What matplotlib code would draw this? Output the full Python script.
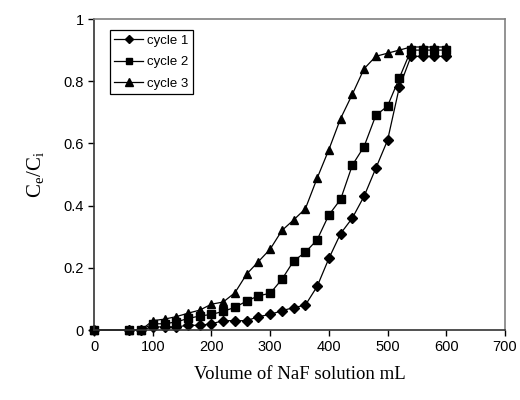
import matplotlib
matplotlib.use("Agg")
import matplotlib.pyplot as plt

# breakthrough data, volume in mL
volume = [0, 60, 80, 100, 120, 140, 160, 180, 200, 220, 240, 260, 280, 300,
          320, 340, 360, 380, 400, 420, 440, 460, 480, 500, 520, 540, 560,
          580, 600]
cycle1 = [0, 0, 0, 0.01, 0.01, 0.01, 0.015, 0.015, 0.02, 0.03, 0.03, 0.03,
          0.043, 0.05, 0.062, 0.072, 0.08, 0.14, 0.23, 0.31, 0.36, 0.43,
          0.52, 0.61, 0.78, 0.88, 0.88, 0.88, 0.88]
cycle2 = [0, 0, 0, 0.02, 0.02, 0.026, 0.037, 0.045, 0.05, 0.06, 0.073, 0.093,
          0.11, 0.118, 0.163, 0.222, 0.25, 0.29, 0.37, 0.42, 0.53, 0.59,
          0.69, 0.72, 0.81, 0.90, 0.90, 0.90, 0.90]
cycle3 = [0, 0, 0, 0.03, 0.035, 0.043, 0.054, 0.064, 0.083, 0.09, 0.12, 0.18,
          0.22, 0.26, 0.32, 0.354, 0.39, 0.488, 0.58, 0.68, 0.758, 0.84,
          0.88, 0.89, 0.90, 0.91, 0.91, 0.91, 0.91]

series = [("cycle 1", cycle1, "D", 5), ("cycle 2", cycle2, "s", 5.5),
          ("cycle 3", cycle3, "^", 6)]

fig = plt.figure(figsize=(5.2, 4.0), dpi=100)
ax = fig.add_axes([0.181, 0.175, 0.79, 0.7775])

for name, vals, mk, ms in series:
    ax.plot(volume, vals, color="black", lw=0.9, marker=mk, markersize=ms,
            label=name, clip_on=False)

ax.set_xlim(0, 700)
ax.set_ylim(0, 1)
ax.set_xticks(range(0, 701, 100))
ax.set_yticks([0, 0.2, 0.4, 0.6, 0.8, 1])
ax.set_yticklabels(["0", "0.2", "0.4", "0.6", "0.8", "1"])
ax.tick_params(direction="out", length=4, width=1, labelsize=10.5,
               colors="black")
for lab in ax.get_xticklabels() + ax.get_yticklabels():
    lab.set_family("Liberation Sans")

for side in ("top", "right"):
    ax.spines[side].set_color("#808080")
    ax.spines[side].set_linewidth(1.2)
for side in ("left", "bottom"):
    ax.spines[side].set_color("#333333")
    ax.spines[side].set_linewidth(1.2)

ax.set_xlabel("Volume of NaF solution mL", family="Liberation Serif",
              fontsize=13.5, labelpad=8)
ax.set_ylabel(r"C$_\mathregular{e}$/C$_\mathregular{i}$",
              family="Liberation Serif", fontsize=15, labelpad=12)

leg = ax.legend(loc="upper left", bbox_to_anchor=(0.038, 0.965),
                prop={"family": "Liberation Sans", "size": 9.5},
                fancybox=False, framealpha=1, edgecolor="black",
                handlelength=2.2, handletextpad=0.3, borderpad=0.35,
                labelspacing=0.7, borderaxespad=0, markerscale=0.85)
leg.get_frame().set_linewidth(0.9)

fig.savefig("out.png", dpi=100)
